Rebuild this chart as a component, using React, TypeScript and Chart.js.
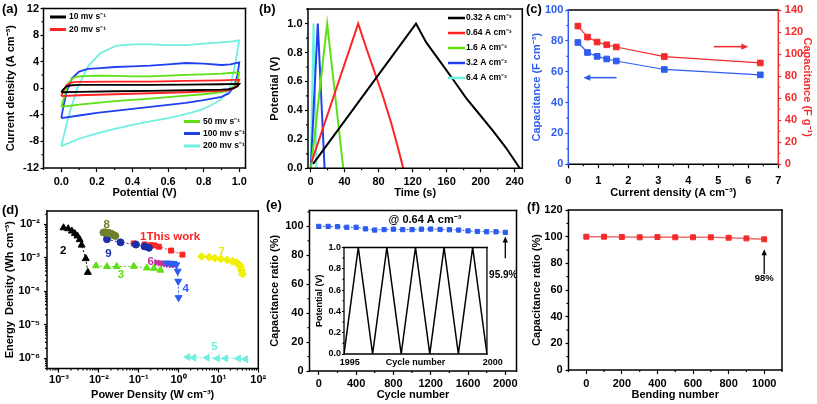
import { useEffect, useRef } from 'react';
import { Chart, registerables } from 'chart.js';

Chart.register(...registerables);

const FF = '"Liberation Sans", Arial, Helvetica, sans-serif';

// ---------------- (a) cyclic voltammetry ----------------
const cvLegend = ['10 mv s⁻¹', '20 mv s⁻¹', '50 mv s⁻¹', '100 mv s⁻¹', '200 mv s⁻¹'];
const cvPot10 = [0, 0.01, 0.03, 0.06, 0.1, 0.3, 0.5, 0.7, 0.9, 1.0, 0.99, 0.97, 0.94, 0.9, 0.7, 0.5, 0.3, 0.1, 0.0];
const cvCur10 = [-0.6, -0.2, 0.3, 0.45, 0.5, 0.5, 0.5, 0.55, 0.6, 0.65, 0.3, 0.0, -0.15, -0.2, -0.3, -0.38, -0.45, -0.55, -0.6];
const cvPot20 = [0, 0.01, 0.03, 0.06, 0.1, 0.3, 0.5, 0.7, 0.9, 1.0, 0.99, 0.97, 0.94, 0.9, 0.7, 0.5, 0.3, 0.1, 0.0];
const cvCur20 = [-1.2, -0.5, 0.5, 0.9, 0.95, 1.0, 1.0, 1.1, 1.2, 1.3, 0.6, 0.0, -0.3, -0.4, -0.6, -0.75, -0.9, -1.05, -1.2];
const cvPot50 = [0, 0.02, 0.04, 0.07, 0.1, 0.2, 0.3, 0.4, 0.5, 0.6, 0.7, 0.8, 0.9, 1.0, 0.99, 0.97, 0.94, 0.9, 0.8, 0.7, 0.6, 0.5, 0.4, 0.3, 0.2, 0.1, 0];
const cvCur50 = [-2.8, -1, 0.8, 1.6, 1.8, 1.9, 1.85, 1.8, 1.8, 1.9, 2.0, 2.1, 2.2, 2.4, 1.2, 0.3, -0.3, -0.6, -0.9, -1.1, -1.35, -1.55, -1.75, -1.95, -2.2, -2.45, -2.8];
const cvPot100 = [0, 0.01, 0.03, 0.06, 0.1, 0.15, 0.2, 0.3, 0.4, 0.5, 0.6, 0.7, 0.8, 0.9, 0.95, 1.0, 0.99, 0.97, 0.94, 0.9, 0.8, 0.7, 0.6, 0.5, 0.4, 0.3, 0.2, 0.1, 0];
const cvCur100 = [-4.5, -3, -0.5, 1.5, 2.5, 2.9, 3.0, 3.2, 3.3, 3.4, 3.6, 3.8, 3.7, 3.5, 3.6, 3.9, 2, 0.2, -0.8, -1.3, -1.8, -2.2, -2.5, -2.8, -3.1, -3.4, -3.7, -4.1, -4.5];
const cvPot200 = [0, 0.04, 0.09, 0.15, 0.22, 0.31, 0.4, 0.5, 0.6, 0.7, 0.8, 0.9, 0.95, 1.0, 0.985, 0.97, 0.95, 0.92, 0.89, 0.84, 0.78, 0.7, 0.6, 0.5, 0.4, 0.3, 0.2, 0.1, 0];
const cvCur200 = [-8.7, -4.3, 0, 3.3, 5.3, 6.4, 6.6, 6.6, 6.5, 6.5, 6.7, 6.9, 7.0, 7.2, 4.8, 2.8, 0.3, -1.0, -1.8, -2.6, -3.3, -3.9, -4.5, -5.0, -5.5, -6.1, -6.8, -7.6, -8.7];
const cvXTicks = [0, 0.2, 0.4, 0.6, 0.8, 1.0];
const cvYTicks = [-12, -8, -4, 0, 4, 8, 12];

// ---------------- (b) charge / discharge ----------------
const gcdLegend = ['0.32 A cm⁻³', '0.64 A cm⁻³', '1.6 A cm⁻³', '3.2 A cm⁻³', '6.4 A cm⁻³'];
const gcdT032 = [3, 124, 136, 152, 168, 183, 199, 215, 230, 246];
const gcdV032 = [0.03, 1.0, 0.87, 0.74, 0.61, 0.485, 0.37, 0.255, 0.14, 0.0];
const gcdT064 = [1, 56, 65, 75, 85, 95, 102, 109];
const gcdV064 = [0.04, 1.0, 0.84, 0.67, 0.5, 0.31, 0.16, 0.0];
const gcdT16 = [0.5, 19.5, 38.5];
const gcdV16 = [0.0, 1.0, 0.0];
const gcdT32 = [0.3, 8.5, 16.5];
const gcdV32 = [0.0, 1.0, 0.0];
const gcdT64 = [0.2, 3.5, 7];
const gcdV64 = [0.0, 1.0, 0.0];
const gcdXTicks = [0, 40, 80, 120, 160, 200, 240];
const gcdYTicks = [0, 0.2, 0.4, 0.6, 0.8, 1.0];

// ---------------- (c) rate capability ----------------
const rateCurrent = [0.32, 0.64, 0.96, 1.28, 1.6, 3.2, 6.4];
const capVolumetric = [79, 72.5, 70, 68.3, 67, 61.5, 58];
const capGravimetric = [125.5, 115.5, 111, 108.5, 106.5, 97.8, 92];
const rateXTicks = [0, 1, 2, 3, 4, 5, 6, 7];
const capVolTicks = [0, 20, 40, 60, 80, 100];
const capGravTicks = [0, 20, 40, 60, 80, 100, 120, 140];

// ---------------- (d) Ragone plot ----------------
const ragLabels = ['1This work', '2', '3', '4', '5', '6', '7', '8', '9'];
const rag1P = [0.075, 0.14, 0.2, 0.25, 0.32, 0.65, 1.25];
const rag1E = [2.7e-3, 2.5e-3, 2.4e-3, 2.35e-3, 2.15e-3, 1.65e-3, 1.25e-3];
const rag2P = [1.3e-3, 1.7e-3, 2.1e-3, 2.5e-3, 2.9e-3, 3.3e-3, 3.7e-3, 4.7e-3, 5.3e-3];
const rag2E = [7.9e-3, 7.4e-3, 6.3e-3, 5.3e-3, 4.5e-3, 3.5e-3, 2.4e-3, 9.5e-4, 3.7e-4];
const rag3P = [8.5e-3, 0.016, 0.028, 0.075, 0.16, 0.24, 0.35];
const rag3E = [5.8e-4, 5.5e-4, 5.5e-4, 5.6e-4, 5.0e-4, 4.9e-4, 4.3e-4];
const rag4P = [0.5, 0.62, 0.75, 0.88, 0.95, 0.98, 1.0];
const rag4E = [7e-4, 6.9e-4, 6.8e-4, 6.2e-4, 4e-4, 2e-4, 6.5e-5];
const rag5P = [1.7, 2.4, 5.2, 9.4, 15, 31.6, 48];
const rag5E = [1.1e-6, 1.05e-6, 1.05e-6, 1.0e-6, 1.0e-6, 1.0e-6, 0.95e-6];
const rag6P = [0.28, 0.34, 0.4, 0.47, 0.55, 0.65, 0.75];
const rag6E = [7.2e-4, 7e-4, 6.8e-4, 6.6e-4, 6.4e-4, 6.3e-4, 6.2e-4];
const rag7P = [3.8, 5.8, 8.1, 11.4, 16.6, 22.4, 28.2, 33, 36, 38, 40];
const rag7E = [1.1e-3, 1.05e-3, 9.8e-4, 9.3e-4, 8.7e-4, 7.9e-4, 7.2e-4, 6.3e-4, 5.3e-4, 4.2e-4, 3.3e-4];
const rag8P = [0.013, 0.0145, 0.016, 0.018, 0.02, 0.022, 0.024, 0.026];
const rag8E = [5.7e-3, 5.8e-3, 5.6e-3, 5.5e-3, 5.3e-3, 5.0e-3, 4.7e-3, 4.5e-3];
const rag9P = [0.016, 0.035, 0.085, 0.14, 0.18];
const rag9E = [3.6e-3, 2.9e-3, 2.5e-3, 2.2e-3, 2.0e-3];
const ragXTicks = [1e-3, 1e-2, 1e-1, 1, 10, 100];
const ragYTicks = [1e-6, 1e-5, 1e-4, 1e-3, 1e-2];

// ---------------- (e) cycling ----------------
const cycNumber = [0, 100, 200, 300, 400, 500, 600, 700, 800, 900, 1000, 1100, 1200, 1300, 1400, 1500, 1600, 1700, 1800, 1900, 2000];
const cycRetention = [100, 100, 99.8, 99.4, 99.4, 98.3, 97.5, 97.8, 98.1, 97.8, 97.8, 98.1, 98.2, 97.9, 97.7, 97.5, 96.9, 96.5, 96.3, 96.3, 95.9];
const cycXTicks = [0, 400, 800, 1200, 1600, 2000];
const cycYTicks = [0, 20, 40, 60, 80, 100];
const insetCycle = [1995, 1995.5, 1996, 1996.5, 1997, 1997.5, 1998, 1998.5, 1999, 1999.5, 2000];
const insetPotential = [0, 1, 0, 1, 0, 1, 0, 1, 0, 1, 0];
const insetYTicks = [0, 0.2, 0.4, 0.6, 0.8, 1.0];
const insetXTickVals = [1995.2, 1997.5, 2000.2];
const insetXTickText = ['1995', 'Cycle number', '2000'];

// ---------------- (f) bending ----------------
const bendNumber = [0, 100, 200, 300, 400, 500, 600, 700, 800, 900, 1000];
const bendRetention = [100, 100, 99.7, 99.5, 99.7, 99.5, 99.5, 99.5, 99.2, 98.7, 98];
const bendXTicks = [0, 200, 400, 600, 800, 1000];
const bendYTicks = [0, 20, 40, 60, 80, 100, 120];

// ---------------- colours ----------------
const BLACK = '#000000';
const RED = '#ff2424';
const GREEN = '#5ee014';
const BLUE = '#2040f0';
const CYAN = '#70f0e0';
const C_BLUE = '#2d5cf0';
const C_RED = '#f42a2a';

// ---------------- helpers ----------------
const SUP: Record<string, string> = { '-': '⁻', '0': '⁰', '1': '¹', '2': '²', '3': '³', '4': '⁴', '5': '⁵', '6': '⁶', '7': '⁷', '8': '⁸', '9': '⁹' };
const pow10 = (v: number) => '10' + String(Math.round(Math.log10(v))).split('').map((c) => SUP[c]).join('');

function minorsOf(min: number, max: number, step: number, majors: number[]) {
  const out: number[] = [];
  const start = Math.ceil(min / step - 1e-9);
  for (let k = start; k * step <= max + 1e-9; k++) {
    const v = +(k * step).toFixed(6);
    if (!majors.some((m) => Math.abs(m - v) < step * 1e-3)) out.push(v);
  }
  return out;
}
function minorsLog(min: number, max: number) {
  const out: number[] = [];
  for (let e = Math.floor(Math.log10(min)); e <= Math.ceil(Math.log10(max)); e++) {
    for (let m = 2; m <= 9; m++) {
      const v = m * Math.pow(10, e);
      if (v >= min && v <= max) out.push(v);
    }
  }
  return out;
}

function xy(xs: number[], ys: number[]) {
  return xs.map((x, i) => ({ x, y: ys[i] }));
}

function lineSet(xs: number[], ys: number[], color: string, width: number, extra: any = {}) {
  return {
    data: xy(xs, ys), showLine: true, borderColor: color, backgroundColor: color,
    borderWidth: width, pointRadius: 0, tension: 0, ...extra,
  };
}

function pointSet(xs: number[], ys: number[], color: string, style: string, r: number, extra: any = {}) {
  return {
    data: xy(xs, ys), showLine: true, borderColor: color, backgroundColor: color, pointBackgroundColor: color,
    pointBorderColor: color, pointStyle: style, pointRadius: r, borderWidth: 1, pointBorderWidth: 1, tension: 0, ...extra,
  };
}

type AxisOpt = {
  type?: string; pos: 'left' | 'right' | 'bottom'; min: number; max: number; majors: number[]; size: number;
  fmt: (v: number) => string; title?: string; color?: string; titlePad?: number; tickPad?: number;
  tickFont?: number; titleFont?: number; tickLen?: number; drawTicks?: boolean;
};

function axis(o: AxisOpt) {
  const c = o.color || BLACK;
  const horiz = o.pos === 'bottom';
  return {
    type: o.type || 'linear', position: o.pos, min: o.min, max: o.max, bounds: 'data',
    afterBuildTicks: (s: any) => { s.ticks = o.majors.map((v) => ({ value: v })); },
    afterFit: (s: any) => { if (horiz) s.height = o.size; else s.width = o.size; },
    grid: { display: true, drawOnChartArea: false, drawTicks: o.drawTicks !== false, tickLength: o.tickLen ?? 4, tickColor: c, tickWidth: 1.2, color: c },
    border: { display: false },
    ticks: {
      autoSkip: false, maxRotation: 0, minRotation: 0, padding: o.tickPad ?? 2, color: c,
      font: { family: FF, size: o.tickFont ?? 11, weight: 'bold' },
      callback: (v: any) => o.fmt(Number(v)),
    },
    title: o.title
      ? { display: true, text: o.title, color: c, font: { family: FF, size: o.titleFont ?? 11, weight: 'bold' }, padding: { top: o.titlePad ?? 0, bottom: o.titlePad ?? 0 } }
      : { display: false },
  };
}

const decorPlugin = {
  id: 'decor',
  afterDraw(chart: any, _args: any, o: any) {
    const { ctx, chartArea: ca } = chart;
    ctx.save();
    const px = (a: string, v: number) => chart.scales[a].getPixelForValue(v);
    for (const m of o.minors || []) {
      const s = chart.scales[m.axis];
      ctx.strokeStyle = m.color || BLACK;
      ctx.lineWidth = 1.2;
      for (const v of m.values) {
        const p = s.getPixelForValue(v);
        ctx.beginPath();
        if (s.position === 'bottom') { ctx.moveTo(p, ca.bottom); ctx.lineTo(p, ca.bottom + m.len); }
        else if (s.position === 'left') { ctx.moveTo(ca.left, p); ctx.lineTo(ca.left - m.len, p); }
        else { ctx.moveTo(ca.right, p); ctx.lineTo(ca.right + m.len, p); }
        ctx.stroke();
      }
    }
    if (o.frame) {
      const f = o.frame;
      ctx.lineWidth = f.width;
      ctx.lineCap = 'square';
      const side = (c: string, x1: number, y1: number, x2: number, y2: number) => {
        ctx.strokeStyle = c; ctx.beginPath(); ctx.moveTo(x1, y1); ctx.lineTo(x2, y2); ctx.stroke();
      };
      side(f.top || f.color, ca.left, ca.top, ca.right, ca.top);
      side(f.bottom || f.color, ca.left, ca.bottom, ca.right, ca.bottom);
      side(f.left || f.color, ca.left, ca.top, ca.left, ca.bottom);
      side(f.right || f.color, ca.right, ca.top, ca.right, ca.bottom);
    }
    for (const a of o.arrows || []) {
      const xa = a.xAxis || 'x', ya = a.yAxis || 'y';
      const x1 = px(xa, a.x1), y1 = px(ya, a.y1), x2 = px(xa, a.x2), y2 = px(ya, a.y2);
      const ang = Math.atan2(y2 - y1, x2 - x1);
      const h = a.head || 6;
      ctx.strokeStyle = a.color; ctx.fillStyle = a.color; ctx.lineWidth = a.width || 1.5; ctx.lineCap = 'butt';
      ctx.beginPath(); ctx.moveTo(x1, y1); ctx.lineTo(x2 - Math.cos(ang) * h * 0.8, y2 - Math.sin(ang) * h * 0.8); ctx.stroke();
      ctx.beginPath(); ctx.moveTo(x2, y2);
      ctx.lineTo(x2 - h * Math.cos(ang) + h * 0.45 * Math.sin(ang), y2 - h * Math.sin(ang) - h * 0.45 * Math.cos(ang));
      ctx.lineTo(x2 - h * Math.cos(ang) - h * 0.45 * Math.sin(ang), y2 - h * Math.sin(ang) + h * 0.45 * Math.cos(ang));
      ctx.closePath(); ctx.fill();
    }
    for (const t of o.texts || []) {
      ctx.font = `bold ${t.size}px ${FF}`; ctx.fillStyle = t.color || BLACK;
      ctx.textAlign = t.align || 'center'; ctx.textBaseline = 'middle';
      ctx.fillText(t.text, px(t.xAxis || 'x', t.x), px(t.yAxis || 'y', t.y));
    }
    if (o.legend) {
      const L = o.legend;
      ctx.font = `bold ${L.size}px ${FF}`; ctx.textAlign = 'left'; ctx.textBaseline = 'middle';
      for (const it of L.items) {
        ctx.strokeStyle = it.color; ctx.lineWidth = L.lineWidth; ctx.lineCap = 'butt';
        ctx.beginPath(); ctx.moveTo(it.x, it.y); ctx.lineTo(it.x + L.lineLen, it.y); ctx.stroke();
        ctx.fillStyle = BLACK; ctx.fillText(it.text, it.x + L.lineLen + L.gap, it.y);
      }
    }
    if (o.panel) {
      ctx.font = `bold ${o.panel.size || 13}px ${FF}`; ctx.fillStyle = BLACK;
      ctx.textAlign = 'left'; ctx.textBaseline = 'middle';
      ctx.fillText(o.panel.text, o.panel.x, o.panel.y);
    }
    ctx.restore();
  },
};

function baseOptions(padding: any, scales: any, decor: any) {
  return {
    responsive: false, animation: false, events: [],
    layout: { padding },
    plugins: { legend: { display: false }, tooltip: { enabled: false }, title: { display: false }, decor },
    scales,
  };
}

function cfg(datasets: any[], options: any) {
  return { type: 'scatter', data: { datasets }, options, plugins: [decorPlugin] };
}

// ---------------- panels ----------------
function makeA() {
  const colors = [BLACK, RED, GREEN, BLUE, CYAN];
  const legX = [50, 50, 184, 184, 184];
  const legY = [17, 29.5, 121.5, 133.5, 146];
  return cfg(
    [
      lineSet(cvPot10, cvCur10, BLACK, 1.8),
      lineSet(cvPot20, cvCur20, RED, 1.8),
      lineSet(cvPot50, cvCur50, GREEN, 1.8),
      lineSet(cvPot100, cvCur100, BLUE, 1.8),
      lineSet(cvPot200, cvCur200, CYAN, 1.8),
    ],
    baseOptions({ top: 8.5, right: 26.5, left: 0, bottom: 0 }, {
      x: axis({ pos: 'bottom', min: -0.1, max: 1.035, majors: cvXTicks, size: 35, fmt: (v) => v.toFixed(1), title: 'Potential (V)', titlePad: 3.7, tickPad: 3.7 }),
      y: axis({ pos: 'left', min: -12, max: 12, majors: cvYTicks, size: 43.5, fmt: (v) => String(v), title: 'Current density (A cm⁻³)', titlePad: 4.1, tickPad: 1.5, tickLen: 3 }),
    }, {
      minors: [
        { axis: 'x', values: minorsOf(-0.1, 1.035, 0.1, cvXTicks), len: 2 },
        { axis: 'y', values: minorsOf(-12, 12, 2, cvYTicks), len: 2 },
      ],
      frame: { color: BLACK, width: 1.5 },
      legend: { size: 8.5, lineLen: 16, gap: 3, lineWidth: 3, items: cvLegend.map((t, i) => ({ text: t, color: colors[i], x: legX[i], y: legY[i] })) },
      panel: { text: '(a)', x: 2, y: 9 },
    }),
  );
}

function makeB() {
  const colors = [BLACK, RED, GREEN, BLUE, CYAN];
  const legY = [18, 33, 48, 63, 78];
  return cfg(
    [
      lineSet(gcdT032, gcdV032, BLACK, 2),
      lineSet(gcdT064, gcdV064, RED, 2),
      lineSet(gcdT16, gcdV16, GREEN, 2),
      lineSet(gcdT32, gcdV32, BLUE, 2),
      lineSet(gcdT64, gcdV64, CYAN, 2),
    ],
    baseOptions({ top: 8.5, right: 4.5, left: 0, bottom: 0 }, {
      x: axis({ pos: 'bottom', min: -3, max: 249, majors: gcdXTicks, size: 34.7, fmt: (v) => String(v), title: 'Time (s)', titlePad: 3.7, tickPad: 3 }),
      y: axis({ pos: 'left', min: 0, max: 1.1, majors: gcdYTicks, size: 53, fmt: (v) => v.toFixed(1), title: 'Potential (V)', titlePad: 13.4, tickPad: 2.5, tickLen: 3 }),
    }, {
      minors: [
        { axis: 'x', values: minorsOf(-3, 249, 20, gcdXTicks), len: 2 },
        { axis: 'y', values: minorsOf(0, 1.1, 0.1, gcdYTicks), len: 2 },
      ],
      frame: { color: BLACK, width: 1.5 },
      legend: { size: 8.5, lineLen: 17, gap: 1, lineWidth: 2.5, items: gcdLegend.map((t, i) => ({ text: t, color: colors[i], x: 193, y: legY[i] })) },
      panel: { text: '(b)', x: 4, y: 9 },
    }),
  );
}

function makeC() {
  return cfg(
    [
      pointSet(rateCurrent, capVolumetric, C_BLUE, 'rect', 4, { yAxisID: 'yL', borderWidth: 1.2 }),
      pointSet(rateCurrent, capGravimetric, C_RED, 'rect', 4, { yAxisID: 'yR', borderWidth: 1.2 }),
    ],
    baseOptions({ top: 7, right: 0, left: 0, bottom: 0 }, {
      x: axis({ pos: 'bottom', min: 0, max: 7, majors: rateXTicks, size: 38.7, fmt: (v) => String(v), title: 'Current density (A cm⁻³)', titlePad: 3.7, tickPad: 6.5 }),
      yL: axis({ pos: 'left', min: 0, max: 100, majors: capVolTicks, size: 48.3, fmt: (v) => String(v), title: 'Capacitance (F cm⁻³)', titlePad: 10.1, tickPad: 2, tickLen: 3, color: C_BLUE }),
      yR: axis({ pos: 'right', min: 0, max: 140, majors: capGravTicks, size: 38.7, fmt: (v) => String(v), title: 'Capacitance (F g⁻¹)', titlePad: 3.7, tickPad: 3.5, tickLen: 3, color: C_RED }),
    }, {
      minors: [
        { axis: 'x', values: minorsOf(0, 7, 0.5, rateXTicks), len: 2 },
        { axis: 'yL', values: minorsOf(0, 100, 10, capVolTicks), len: 2, color: C_BLUE },
        { axis: 'yR', values: minorsOf(0, 140, 10, capGravTicks), len: 2, color: C_RED },
      ],
      frame: { color: BLACK, left: C_BLUE, right: C_RED, width: 1.5 },
      arrows: [
        { x1: 1.61, y1: 56.2, x2: 0.5, y2: 56.2, yAxis: 'yL', color: C_BLUE, width: 1.5, head: 7 },
        { x1: 4.85, y1: 76.3, x2: 6.0, y2: 76.3, yAxis: 'yL', color: C_RED, width: 1.5, head: 7 },
      ],
      panel: { text: '(c)', x: 6, y: 9 },
    }),
  );
}

function makeD() {
  const dash = { borderDash: [2, 2], borderWidth: 1 };
  const OLIVE = '#70802a';
  const NAVY = '#1c2fa6';
  const MAG = '#c8309a';
  const YEL = '#f0f000';
  const labelColors = [RED, BLACK, GREEN, C_BLUE, CYAN, MAG, '#e8e800', OLIVE, NAVY];
  const labelP = [0.108, 1.28e-3, 0.036, 1.51, 7.9, 0.2, 12.1, 0.0157, 0.0173];
  const labelE = [4.1e-3, 1.6e-3, 3.1e-4, 1.23e-4, 2.2e-6, 7.7e-4, 1.52e-3, 9.5e-3, 1.36e-3];
  return cfg(
    [
      pointSet(rag8P, rag8E, OLIVE, 'circle', 3.5, dash),
      pointSet(rag9P, rag9E, NAVY, 'circle', 3.5, dash),
      pointSet(rag1P, rag1E, RED, 'rect', 3.5, dash),
      pointSet(rag2P, rag2E, BLACK, 'triangle', 4, dash),
      pointSet(rag3P, rag3E, GREEN, 'triangle', 4, dash),
      pointSet(rag4P, rag4E, C_BLUE, 'triangle', 4, { ...dash, rotation: 180 }),
      pointSet(rag6P, rag6E, MAG, 'triangle', 3.5, { ...dash, rotation: 90 }),
      pointSet(rag7P, rag7E, YEL, 'rectRot', 4, dash),
      pointSet(rag5P, rag5E, CYAN, 'triangle', 4, { ...dash, rotation: -90 }),
    ],
    baseOptions({ top: 11, right: 11.7, left: 0, bottom: 0 }, {
      x: axis({ type: 'logarithmic', pos: 'bottom', min: 5e-4, max: 100, majors: ragXTicks, size: 35.5, fmt: pow10, title: 'Power Density (W cm⁻³)', titlePad: 2.4, tickPad: 1 }),
      y: axis({ type: 'logarithmic', pos: 'left', min: 5e-7, max: 2.5e-2, majors: ragYTicks, size: 47, fmt: pow10, title: 'Energy  Density (Wh cm⁻³)', titlePad: 3.4, tickPad: 4, tickLen: 3 }),
    }, {
      minors: [
        { axis: 'x', values: minorsLog(5e-4, 100), len: 2 },
        { axis: 'y', values: minorsLog(5e-7, 2.5e-2), len: 2 },
      ],
      frame: { color: BLACK, width: 1.5 },
      texts: ragLabels.map((t, i) => ({ text: t, x: labelP[i], y: labelE[i], color: labelColors[i], size: 11.5, align: i === 0 ? 'left' : 'center' })),
      panel: { text: '(d)', x: 2, y: 10 },
    }),
  );
}

function makeE() {
  return cfg(
    [pointSet(cycNumber, cycRetention, C_BLUE, 'rect', 3, { borderDash: [2, 2], borderWidth: 1 })],
    baseOptions({ top: 12.5, right: 13.5, left: 0, bottom: 0 }, {
      x: axis({ pos: 'bottom', min: -100, max: 2120, majors: cycXTicks, size: 33, fmt: (v) => String(v), title: 'Cycle number', titlePad: 2.4, tickPad: 2.7 }),
      y: axis({ pos: 'left', min: 0, max: 111, majors: cycYTicks, size: 47.5, fmt: (v) => String(v), title: 'Capacitance ratio (%)', titlePad: 6.4, tickPad: 3, tickLen: 3 }),
    }, {
      minors: [
        { axis: 'x', values: minorsOf(-100, 2120, 200, cycXTicks), len: 2 },
        { axis: 'y', values: minorsOf(0, 111, 10, cycYTicks), len: 2 },
      ],
      frame: { color: BLACK, width: 1.5 },
      arrows: [{ x1: 2000, y1: 78, x2: 2000, y2: 93, color: BLACK, width: 1.3, head: 6 }],
      texts: [
        { text: '@ 0.64 A cm⁻³', x: 1139, y: 104.6, size: 11 },
        { text: '95.9%', x: 1978, y: 66.2, size: 10 },
      ],
      panel: { text: '(e)', x: 4, y: 7 },
    }),
  );
}

function makeInset() {
  return cfg(
    [lineSet(insetCycle, insetPotential, BLACK, 1.5)],
    baseOptions({ top: 7.5, right: 17, left: 0, bottom: 0 }, {
      x: {
        ...axis({ pos: 'bottom', min: 1995, max: 2000, majors: insetXTickVals, size: 16, fmt: (v) => v.toFixed(1), tickPad: 3, tickFont: 9, drawTicks: false }),
        afterBuildTicks: (s: any) => { s.ticks = insetXTickVals.map((v) => ({ value: v })); },
        ticks: {
          autoSkip: false, maxRotation: 0, minRotation: 0, padding: 3, color: BLACK,
          font: { family: FF, size: 9, weight: 'bold' },
          callback: (_v: any, i: number) => insetXTickText[i],
        },
      },
      y: axis({ pos: 'left', min: 0, max: 1.0, majors: insetYTicks, size: 44, fmt: (v) => v.toFixed(1), title: 'Potential (V)', titlePad: 14.6, tickPad: 1, tickLen: 2, tickFont: 9, titleFont: 9 }),
    }, {
      minors: [{ axis: 'y', values: minorsOf(0, 1, 0.1, insetYTicks), len: 1.5 }],
      frame: { color: BLACK, width: 1.3 },
    }),
  );
}

function makeF() {
  return cfg(
    [pointSet(bendNumber, bendRetention, C_RED, 'rect', 3.5, { borderColor: '#f07070', borderWidth: 1.5 })],
    baseOptions({ top: 12, right: 35, left: 0, bottom: 0 }, {
      x: axis({ pos: 'bottom', min: -100, max: 1100, majors: bendXTicks, size: 34, fmt: (v) => String(v), title: 'Bending number', titlePad: 2.4, tickPad: 3.7 }),
      y: axis({ pos: 'left', min: 0, max: 120, majors: bendYTicks, size: 48.5, fmt: (v) => String(v), title: 'Capacitance ratio (%)', titlePad: 10.1, tickPad: 2.8, tickLen: 3 }),
    }, {
      minors: [
        { axis: 'x', values: minorsOf(-100, 1100, 100, bendXTicks), len: 2 },
        { axis: 'y', values: minorsOf(0, 120, 10, bendYTicks), len: 2 },
      ],
      frame: { color: BLACK, width: 1.5 },
      arrows: [{ x1: 1000, y1: 72, x2: 1000, y2: 90.5, color: BLACK, width: 1.3, head: 6 }],
      texts: [{ text: '98%', x: 1000, y: 68.8, size: 9.5 }],
      panel: { text: '(f)', x: 7, y: 9 },
    }),
  );
}

function ChartBox({ box, make }: { box: number[]; make: () => any }) {
  const ref = useRef<HTMLCanvasElement | null>(null);
  useEffect(() => {
    if (!ref.current) return;
    const ch = new Chart(ref.current, make());
    return () => ch.destroy();
  }, []);
  return (
    <canvas
      ref={ref}
      width={box[2]}
      height={box[3]}
      style={{ position: 'absolute', left: box[0], top: box[1], width: box[2], height: box[3] }}
    />
  );
}

export default function App() {
  return (
    <div style={{ position: 'fixed', left: 0, top: 0, width: 817, height: 404, background: '#ffffff', overflow: 'hidden' }}>
      <ChartBox box={[0, 0, 272, 203]} make={makeA} />
      <ChartBox box={[255, 0, 272, 203]} make={makeB} />
      <ChartBox box={[520, 0, 297, 203]} make={makeC} />
      <ChartBox box={[0, 200, 270, 204]} make={makeD} />
      <ChartBox box={[262, 198, 268, 206]} make={makeE} />
      <ChartBox box={[300, 240, 205, 130]} make={makeInset} />
      <ChartBox box={[520, 198, 297, 206]} make={makeF} />
    </div>
  );
}
